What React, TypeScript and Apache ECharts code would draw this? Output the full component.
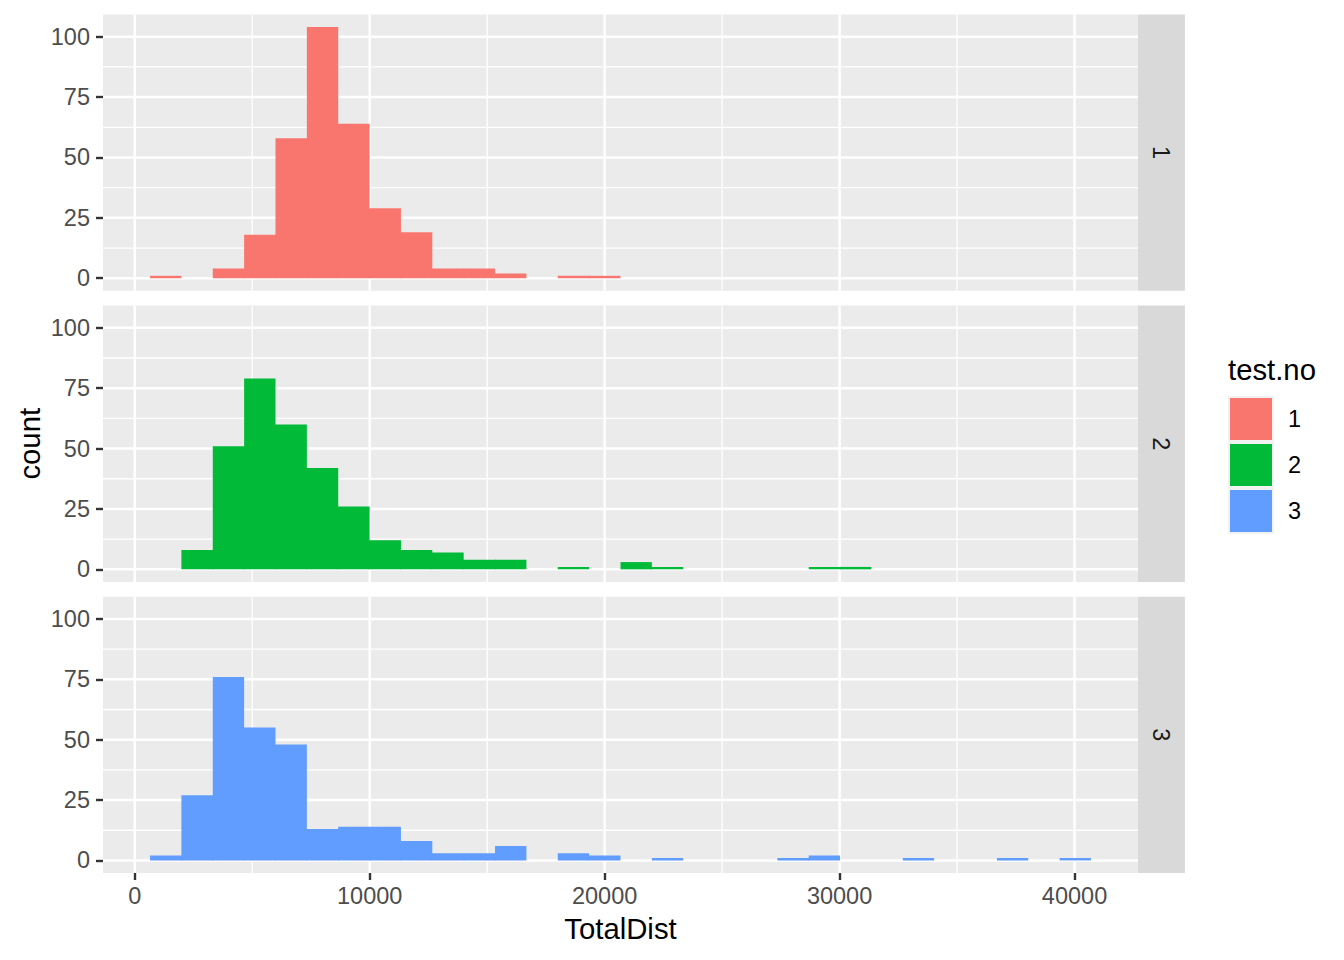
import React, { useEffect, useRef } from "react";
import * as echarts from "echarts";

// ---- data ----
const panelNames = ["1", "2", "3"];
const panelColors = ["#F8766D", "#00BA38", "#619CFF"];
const binStart = 650;
const binWidth = 1335;
const test1Counts = [1, 0, 4, 18, 58, 104, 64, 29, 19, 4, 4, 2, 0, 1, 1, 0, 0, 0, 0, 0, 0, 0, 0, 0, 0, 0, 0, 0, 0, 0];
const test2Counts = [0, 8, 51, 79, 60, 42, 26, 12, 8, 7, 4, 4, 0, 1, 0, 3, 1, 0, 0, 0, 0, 1, 1, 0, 0, 0, 0, 0, 0, 0];
const test3Counts = [2, 27, 76, 55, 48, 13, 14, 14, 8, 3, 3, 6, 0, 3, 2, 0, 1, 0, 0, 0, 1, 2, 0, 0, 1, 0, 0, 1, 0, 1];
const xMajorTicks = [0, 10000, 20000, 30000, 40000];
const xMinorTicks = [5000, 15000, 25000, 35000];
const yMajorTicks = [0, 25, 50, 75, 100];
const yMinorTicks = [12.5, 37.5, 62.5, 87.5];
const xTitle = "TotalDist";
const yTitle = "count";
const legendTitle = "test.no";

// ---- layout ----
const X_MIN = -1352;
const X_MAX = 42702;
const Y_MIN = -5.2;
const Y_MAX = 109.2;
const GRID_LEFT = 103;
const GRID_WIDTH = 1035;
const PANEL_TOPS = [14.5, 305.6, 596.7];
const PANEL_H = 276.3;
const STRIP_W = 46.9;
const FONT = "'Liberation Sans', Arial, Helvetica, sans-serif";
const SEAM = 0.8;

const allCounts = [test1Counts, test2Counts, test3Counts];

function binData(counts: number[]) {
  return counts.map((c, k) => [binStart + k * binWidth, binStart + (k + 1) * binWidth, c]);
}

export default function App() {
  const ref = useRef<HTMLDivElement>(null);

  useEffect(() => {
    if (!ref.current) return;
    const chart = echarts.init(ref.current, undefined, { renderer: "svg" });

    const grids: any[] = [];
    const xAxes: any[] = [];
    const yAxes: any[] = [];
    const series: any[] = [];
    const graphic: any[] = [];

    PANEL_TOPS.forEach((top, i) => {
      grids.push({
        left: GRID_LEFT,
        top,
        width: GRID_WIDTH,
        height: PANEL_H,
        show: true,
        backgroundColor: "#EBEBEB",
        borderWidth: 0,
        containLabel: false,
        outerBoundsMode: "none",
      });
      const isBottom = i === PANEL_TOPS.length - 1;
      xAxes.push({
        type: "value",
        gridIndex: i,
        position: "bottom",
        min: X_MIN,
        max: X_MAX,
        splitLine: { show: false },
        axisLine: { show: false, onZero: false },
        axisTick: {
          show: isBottom,
          customValues: xMajorTicks,
          length: 7,
          lineStyle: { color: "#333333", width: 2.4 },
        },
        axisLabel: {
          show: isBottom,
          customValues: xMajorTicks,
          formatter: (v: number) => String(v),
          margin: 11,
          color: "#4D4D4D",
          fontSize: 23.5,
          fontFamily: FONT,
        },
      });
      yAxes.push({
        type: "value",
        gridIndex: i,
        position: "left",
        min: Y_MIN,
        max: Y_MAX,
        splitLine: { show: false },
        axisLine: { show: false, onZero: false },
        axisTick: {
          show: true,
          customValues: yMajorTicks,
          length: 7,
          lineStyle: { color: "#333333", width: 2.4 },
        },
        axisLabel: {
          customValues: yMajorTicks,
          formatter: (v: number) => String(v),
          margin: 13,
          color: "#4D4D4D",
          fontSize: 23.5,
          fontFamily: FONT,
        },
      });

      // gridlines
      series.push({
        type: "custom",
        name: "grid" + i,
        xAxisIndex: i,
        yAxisIndex: i,
        z: 1,
        silent: true,
        data: [[0, 0]],
        renderItem: (params: any, api: any) => {
          const bl = api.coord([X_MIN, Y_MIN]);
          const tr = api.coord([X_MAX, Y_MAX]);
          const children: any[] = [];
          const vline = (v: number, w: number) => {
            const x = api.coord([v, 0])[0];
            children.push({
              type: "line",
              shape: { x1: x, y1: bl[1], x2: x, y2: tr[1] },
              style: { stroke: "#FFFFFF", lineWidth: w },
            });
          };
          const hline = (v: number, w: number) => {
            const y = api.coord([0, v])[1];
            children.push({
              type: "line",
              shape: { x1: bl[0], y1: y, x2: tr[0], y2: y },
              style: { stroke: "#FFFFFF", lineWidth: w },
            });
          };
          xMinorTicks.forEach((v) => vline(v, 1.3));
          yMinorTicks.forEach((v) => hline(v, 1.3));
          xMajorTicks.forEach((v) => vline(v, 2.5));
          yMajorTicks.forEach((v) => hline(v, 2.5));
          return { type: "group", children };
        },
      });

      // histogram bars
      const color = panelColors[i];
      const counts = allCounts[i];
      series.push({
        type: "custom",
        name: panelNames[i],
        xAxisIndex: i,
        yAxisIndex: i,
        z: 2,
        data: binData(counts),
        encode: { x: [0, 1], y: 2 },
        renderItem: (params: any, api: any) => {
          const k = params.dataIndex;
          const s = api.value(0);
          const e = api.value(1);
          const c = api.value(2);
          if (!c) return null;
          const p0 = api.coord([s, 0]);
          const p1 = api.coord([e, c]);
          const next = k + 1 < counts.length ? counts[k + 1] : 0;
          const prev = k > 0 ? counts[k - 1] : 0;
          const extR = next > 0 && next >= c ? SEAM : 0;
          const extL = prev > c ? SEAM : 0;
          return {
            type: "rect",
            shape: {
              x: p0[0] - extL,
              y: p1[1],
              width: p1[0] - p0[0] + extL + extR,
              height: p0[1] - p1[1],
            },
            style: { fill: color },
          };
        },
      });

      // strip
      graphic.push({
        type: "rect",
        shape: { x: GRID_LEFT + GRID_WIDTH, y: top, width: STRIP_W, height: PANEL_H },
        style: { fill: "#D9D9D9" },
      });
      graphic.push({
        type: "text",
        x: GRID_LEFT + GRID_WIDTH + STRIP_W / 2,
        y: top + PANEL_H / 2,
        rotation: -Math.PI / 2,
        style: {
          text: panelNames[i],
          fill: "#1A1A1A",
          fontSize: 23.5,
          fontFamily: FONT,
          align: "center",
          verticalAlign: "middle",
        },
      });
    });

    // axis titles
    graphic.push({
      type: "text",
      x: GRID_LEFT + GRID_WIDTH / 2,
      y: 928,
      style: {
        text: xTitle,
        fill: "#000000",
        fontSize: 29.3,
        fontFamily: FONT,
        align: "center",
        verticalAlign: "middle",
      },
    });
    graphic.push({
      type: "text",
      x: 29,
      y: (PANEL_TOPS[0] + PANEL_TOPS[2] + PANEL_H) / 2,
      rotation: Math.PI / 2,
      style: {
        text: yTitle,
        fill: "#000000",
        fontSize: 29.3,
        fontFamily: FONT,
        align: "center",
        verticalAlign: "middle",
      },
    });

    // legend
    graphic.push({
      type: "text",
      x: 1228,
      y: 369,
      style: {
        text: legendTitle,
        fill: "#000000",
        fontSize: 29.3,
        fontFamily: FONT,
        align: "left",
        verticalAlign: "middle",
      },
    });
    panelNames.forEach((name, j) => {
      const ky = 396 + 46 * j;
      graphic.push({
        type: "rect",
        shape: { x: 1228, y: ky, width: 46, height: 46 },
        style: { fill: "#F2F2F2" },
      });
      graphic.push({
        type: "rect",
        shape: { x: 1230, y: ky + 2, width: 42, height: 42 },
        style: { fill: panelColors[j] },
      });
      graphic.push({
        type: "text",
        x: 1288,
        y: ky + 23,
        style: {
          text: name,
          fill: "#000000",
          fontSize: 23.5,
          fontFamily: FONT,
          align: "left",
          verticalAlign: "middle",
        },
      });
    });

    chart.setOption({
      animation: false,
      backgroundColor: "#FFFFFF",
      textStyle: { fontFamily: FONT },
      grid: grids,
      xAxis: xAxes,
      yAxis: yAxes,
      series,
      graphic,
    });

    return () => {
      chart.dispose();
    };
  }, []);

  return (
    <div
      ref={ref}
      style={{ position: "fixed", left: 0, top: 0, width: 1344, height: 960 }}
    />
  );
}
